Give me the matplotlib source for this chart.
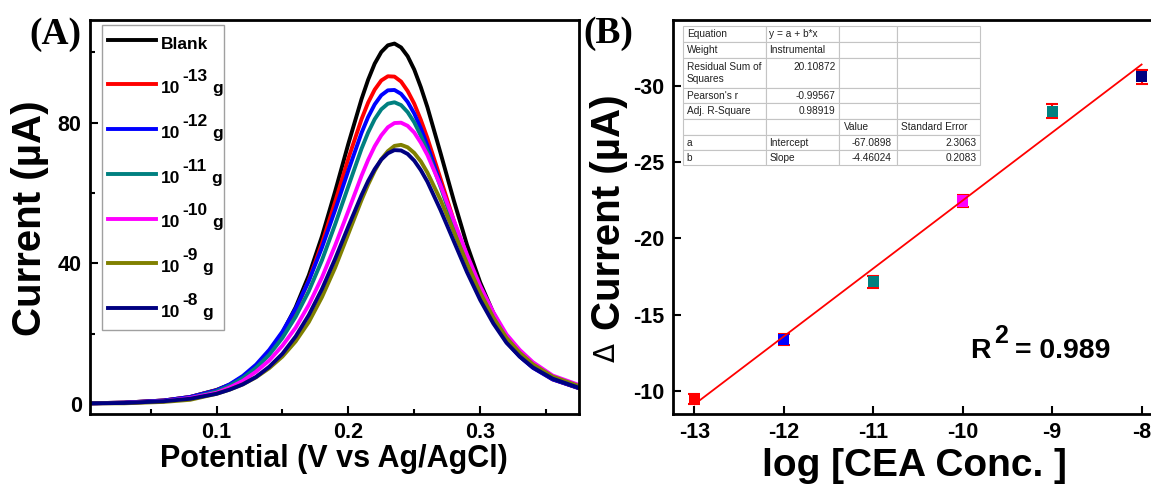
import matplotlib
matplotlib.use("Agg")
import matplotlib.pyplot as plt
from matplotlib.table import Table
from matplotlib.font_manager import FontProperties

plt.rcParams['font.family'] = ['Liberation Sans', 'DejaVu Sans']
plt.rcParams['font.weight'] = 'bold'
plt.rcParams['axes.labelweight'] = 'bold'
plt.rcParams['axes.unicode_minus'] = False

# ---------------- Panel A: DPV curves ----------------
potential = [0.004, 0.03, 0.06, 0.08, 0.10, 0.11, 0.12, 0.13, 0.14, 0.15, 0.16, 0.17,
             0.18, 0.19, 0.20, 0.21, 0.215, 0.22, 0.225, 0.23, 0.235, 0.24, 0.245,
             0.25, 0.255, 0.26, 0.27, 0.28, 0.29, 0.30, 0.31, 0.32, 0.33, 0.34, 0.355, 0.375]

current_blank = [0.2, 0.4, 1.0, 2.0, 4.0, 5.5, 7.7, 10.8, 14.8, 20.3, 27.5, 36.6, 47.7, 60.5,
                 74.0, 86.7, 92.2, 96.8, 100.1, 102.0, 102.5, 101.4, 98.9, 95.1, 90.1, 84.4,
                 71.3, 57.9, 45.3, 34.6, 25.9, 19.1, 14.3, 10.8, 7.1, 4.5]
current_e13 = [0.2, 0.4, 1.0, 2.0, 3.9, 5.4, 7.5, 10.5, 14.4, 19.7, 26.6, 35.2, 45.7, 57.5,
               69.8, 81.0, 85.7, 89.4, 92.0, 93.2, 93.1, 91.7, 89.0, 85.4, 80.8, 75.6,
               64.0, 52.2, 41.2, 31.8, 24.0, 17.9, 13.6, 10.4, 7.0, 4.5]
current_e12 = [0.2, 0.4, 1.0, 2.0, 3.9, 5.6, 8.0, 11.2, 15.4, 20.6, 27.1, 35.0, 44.5, 55.2,
               66.4, 77.1, 81.6, 85.2, 87.8, 89.2, 89.3, 88.2, 85.9, 82.6, 78.4, 73.5,
               62.5, 51.1, 40.5, 31.3, 23.7, 17.7, 13.5, 10.3, 7.0, 4.5]
current_e11 = [0.2, 0.3, 0.8, 1.7, 3.6, 5.2, 7.4, 10.3, 14.0, 18.8, 24.8, 32.1, 40.9, 51.1,
               61.9, 72.6, 77.2, 81.0, 83.8, 85.4, 85.8, 85.0, 83.0, 80.1, 76.3, 71.9,
               61.7, 50.9, 40.7, 31.7, 24.2, 18.2, 13.9, 10.7, 7.3, 4.7]
current_e10 = [0.2, 0.3, 0.8, 1.7, 3.2, 4.7, 6.6, 9.2, 12.4, 16.6, 21.7, 28.2, 36.0, 45.1,
               54.9, 64.9, 69.4, 73.3, 76.4, 78.7, 79.9, 80.0, 79.1, 77.2, 74.3, 70.8,
               62.1, 52.2, 42.5, 33.6, 26.1, 19.8, 15.4, 11.9, 8.1, 5.4]
current_e9 = [0.2, 0.2, 0.6, 1.2, 2.9, 4.1, 5.6, 7.6, 10.2, 13.5, 17.8, 23.3, 30.4, 38.8,
              48.4, 58.0, 62.4, 66.3, 69.6, 71.9, 73.4, 73.7, 73.0, 71.4, 69.0, 65.8,
              58.0, 49.0, 40.0, 31.7, 24.6, 18.8, 14.6, 11.3, 7.8, 5.1]
current_e8 = [0.2, 0.3, 0.8, 1.5, 2.9, 4.1, 5.6, 7.7, 10.6, 14.3, 19.2, 25.3, 32.7, 41.3,
              50.5, 59.4, 63.4, 66.8, 69.5, 71.3, 72.2, 72.1, 71.1, 69.2, 66.5, 63.2,
              55.1, 46.3, 37.5, 29.6, 22.9, 17.4, 13.5, 10.4, 7.2, 4.6]

curve_colors = ['#000000', '#ff0000', '#0000ff', '#008080', '#ff00ff', '#808000', '#000080']
conc_exponents = ['-13', '-12', '-11', '-10', '-9', '-8']

# ---------------- Panel B: calibration ----------------
log_conc = [-13, -12, -11, -10, -9, -8]
delta_current = [-9.45, -13.35, -17.15, -22.45, -28.35, -30.6]
current_err = [0.3, 0.35, 0.4, 0.4, 0.45, 0.45]
point_colors = ['#ff0000', '#0000ff', '#008080', '#ff00ff', '#008080', '#000080']

fit_intercept = -67.0898
fit_slope = -4.46024
fit_intercept_se = 2.3063
fit_slope_se = 0.2083
residual_ss = 20.10872
pearson_r = -0.99567
adj_r2 = 0.98919
r_squared_label = '0.989'

# ---------------- figure ----------------
W, H = 1151, 484
fig = plt.figure(figsize=(W / 100, H / 100), dpi=100)


def px_box(left, top, right, bottom):
    return [left / W, 1 - bottom / H, (right - left) / W, (bottom - top) / H]


axA = fig.add_axes(px_box(90, 20, 579, 414))
axB = fig.add_axes(px_box(673, 20, 1155, 414))

for ax in (axA, axB):
    for sp in ax.spines.values():
        sp.set_linewidth(2.0)
    ax.tick_params(which='both', direction='in', width=1.5, labelsize=15.5, pad=6,
                   top=False, right=False)
    ax.tick_params(which='major', length=6)
    ax.tick_params(which='minor', length=3.5)

# Panel A
all_curves = [current_blank, current_e13, current_e12, current_e11,
              current_e10, current_e9, current_e8]
lines = []
for ys, col in zip(all_curves, curve_colors):
    ln, = axA.plot(potential, ys, color=col, lw=2.8, solid_joinstyle='round')
    lines.append(ln)

axA.set_xlim(0.004, 0.375)
axA.set_ylim(-2.84, 109.2)
axA.set_xticks([0.1, 0.2, 0.3])
axA.set_xticks([0.05, 0.15, 0.25, 0.35], minor=True)
axA.set_yticks([0, 40, 80])
axA.set_yticks([20, 60, 100], minor=True)

axA.set_xlabel('Potential (V vs Ag/AgCl)', fontsize=22, fontweight='bold', va='center')
axA.xaxis.set_label_coords(0.498, -0.114)
axA.set_ylabel('Current (\u00b5A)', fontsize=29, fontweight='bold', va='center')
axA.yaxis.set_label_coords(-0.1217, 0.4958)

# legend box: fixed width, anchored at its upper-left corner
axA_w, axA_h = 579 - 90, 414 - 20
leg_left, leg_top, leg_right = 101.7, 24.7, 224.0
leg_anchor = ((leg_left - 90) / axA_w, (414 - leg_top) / axA_h - 0.5,
              (leg_right - leg_left) / axA_w, 0.5)
leg_font = FontProperties(family='Liberation Sans', weight='bold', size=12.5)
leg_labels = ['Blank'] + ['10'] * len(conc_exponents)
leg = axA.legend(lines, leg_labels, loc='upper left', bbox_to_anchor=leg_anchor,
                 mode='expand', borderaxespad=0, frameon=True, fancybox=False,
                 framealpha=1, edgecolor='#a0a0a0', handlelength=2.76, handleheight=1.8,
                 handletextpad=0.32, labelspacing=1.16, borderpad=0.35, prop=leg_font)
leg.get_frame().set_linewidth(1.0)

# raised exponent and trailing "g" after each "10"
for i, exp in enumerate(conc_exponents, start=1):
    ten = leg.get_texts()[i]
    sup = axA.annotate(exp, xy=(1, 1), xycoords=ten, xytext=(1.2, -2.0),
                       textcoords='offset points', ha='left', va='bottom',
                       fontproperties=leg_font, zorder=6)
    axA.annotate('g', xy=(1, 0), xycoords=(sup, ten), xytext=(3.5, 0),
                 textcoords='offset points', ha='left', va='bottom',
                 fontproperties=leg_font, zorder=6)

fig.text(55 / W, 1 - 35 / H, '(A)', ha='center', va='center',
         family='Liberation Serif', weight='bold', fontsize=27)

# Panel B
axB.errorbar(log_conc, delta_current, yerr=current_err, fmt='none', ecolor='#ff0000',
             elinewidth=1.5, capsize=4, capthick=1.5, zorder=2)
axB.scatter(log_conc, delta_current, marker='s', s=63, c=point_colors,
            linewidths=0, zorder=3)
fit_x = [log_conc[0], log_conc[-1]]
fit_y = [fit_intercept + fit_slope * x for x in fit_x]
axB.plot(fit_x, fit_y, color='#ff0000', lw=1.3, zorder=4)

axB.set_xlim(-13.24, -7.85)
axB.set_ylim(-8.47, -34.33)
axB.set_xticks(log_conc)
axB.set_yticks([-30, -25, -20, -15, -10])

axB.set_xlabel('log [CEA Conc. ]', fontsize=28, fontweight='bold', va='center')
axB.xaxis.set_label_coords(0.5, -0.132)
axB.set_ylabel('Current (\u00b5A)', fontsize=29, fontweight='bold', va='center')
axB.yaxis.set_label_coords(-0.1328, 0.511)
axB.text(-0.137, 0.156, '\u0394', transform=axB.transAxes, rotation=90,
         ha='center', va='center', family='DejaVu Sans', weight='normal',
         fontsize=20, clip_on=False)

axB.text(0.616, 0.142, 'R', transform=axB.transAxes, fontsize=20.5,
         ha='left', va='baseline')
axB.text(0.666, 0.180, '2', transform=axB.transAxes, fontsize=18,
         ha='left', va='baseline')
axB.text(0.7095, 0.142, '= ' + r_squared_label, transform=axB.transAxes,
         fontsize=20.5, ha='left', va='baseline')

fig.text(608 / W, 1 - 33.5 / H, '(B)', ha='center', va='center',
         family='Liberation Serif', weight='bold', fontsize=27)

# fit-report table
table_rows = [
    ['Equation', 'y = a + b*x', '', ''],
    ['Weight', 'Instrumental', '', ''],
    ['Residual Sum of\nSquares', f'{residual_ss:.5f}\n', '', ''],
    ["Pearson's r", f'{pearson_r:.5f}', '', ''],
    ['Adj. R-Square', f'{adj_r2:.5f}', '', ''],
    ['', '', 'Value', 'Standard Error'],
    ['a', 'Intercept', f'{fit_intercept:.4f}', f'{fit_intercept_se:.4f}'],
    ['b', 'Slope', f'{fit_slope:.5f}', f'{fit_slope_se:.4f}'],
]
table_align = [
    ['left', 'left', 'left', 'left'],
    ['left', 'left', 'left', 'left'],
    ['left', 'right', 'left', 'left'],
    ['left', 'right', 'left', 'left'],
    ['left', 'right', 'left', 'left'],
    ['left', 'left', 'left', 'left'],
    ['left', 'left', 'right', 'right'],
    ['left', 'left', 'right', 'right'],
]
row_px = [16, 16, 30, 15, 16, 16, 15, 15]
col_px = [83, 73, 58, 83]
col_pad = [0.045, 0.045, 0.09, 0.045]

tab_l, tab_t = 683, 26
tab_w, tab_h = sum(col_px), sum(row_px)
ax_w, ax_h = 1155 - 673, 414 - 20
tab = Table(axB, bbox=[(tab_l - 673) / ax_w, (414 - (tab_t + tab_h)) / ax_h,
                       tab_w / ax_w, tab_h / ax_h])
cell_font = FontProperties(family='Liberation Sans', weight='normal', size=7.3)
for r, row in enumerate(table_rows):
    for c, txt in enumerate(row):
        cell = tab.add_cell(r, c, width=col_px[c], height=row_px[r], text=txt,
                            loc=table_align[r][c], edgecolor='#c4c4c4',
                            facecolor='white')
        cell.PAD = col_pad[c]
        cell.set_linewidth(0.8)
        cell.get_text().set_fontproperties(cell_font)
        cell.get_text().set_color('#222222')
tab.auto_set_font_size(False)
tab.set_zorder(5)
axB.add_table(tab)

fig.savefig('out.png', dpi=100)
